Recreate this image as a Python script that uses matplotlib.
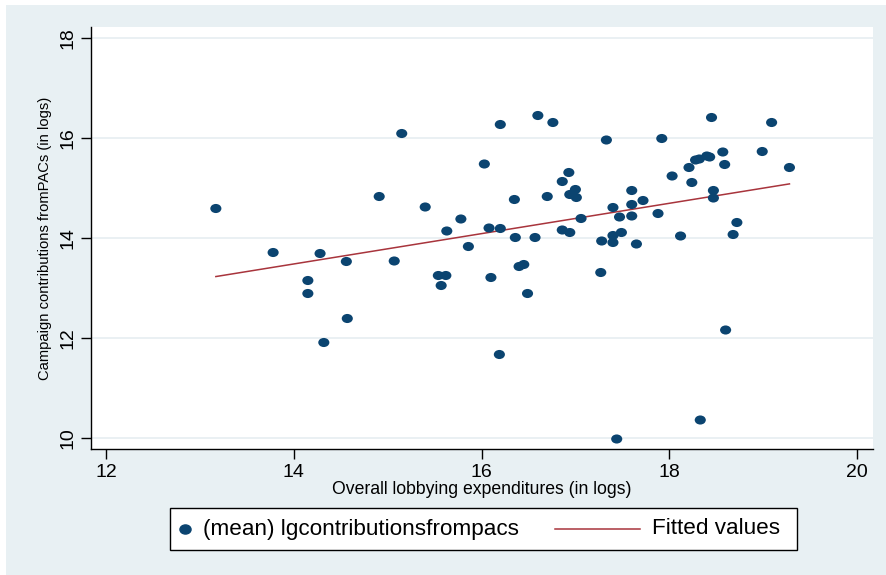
import numpy as np
import matplotlib
matplotlib.use("Agg")
import matplotlib.pyplot as plt
from matplotlib.patches import Rectangle
from matplotlib.lines import Line2D
from matplotlib.path import Path
from matplotlib.transforms import Affine2D

plt.rcParams['font.family'] = ['Liberation Sans', 'DejaVu Sans']

# overall lobbying expenditures (logs)
lobbying = [13.17, 13.78, 14.28, 14.56, 14.15, 14.15, 14.57, 14.32, 14.91, 15.15,
            15.07, 15.40, 15.78, 15.63, 15.86, 15.54, 15.62, 15.57, 16.03, 16.20,
            16.08, 16.20, 16.35, 16.36, 16.10, 16.19, 16.40, 16.45, 16.60, 16.76,
            16.57, 16.49, 16.70, 16.86, 16.93, 16.94, 17.00, 17.01, 17.06, 16.86,
            16.94, 17.33, 17.92, 17.27, 17.28, 17.40, 17.40, 17.49, 17.65, 17.40,
            17.47, 17.60, 17.60, 17.60, 17.72, 17.88, 18.12, 18.03, 18.21, 18.24,
            18.32, 18.28, 18.40, 18.43, 18.45, 18.57, 18.59, 18.47, 18.47, 18.72,
            18.68, 18.60, 18.99, 19.09, 19.28, 17.44, 18.33]
# campaign contributions from PACs (logs)
contributions = [14.59, 13.71, 13.69, 13.53, 13.15, 12.89, 12.39, 11.91, 14.83, 16.09,
                 13.54, 14.62, 14.38, 14.14, 13.83, 13.25, 13.25, 13.05, 15.48, 16.27,
                 14.20, 14.19, 14.77, 14.01, 13.21, 11.67, 13.43, 13.47, 16.45, 16.31,
                 14.01, 12.89, 14.83, 15.13, 15.31, 14.87, 14.97, 14.81, 14.39, 14.16,
                 14.11, 15.96, 15.99, 13.31, 13.94, 14.05, 13.91, 14.11, 13.88, 14.61,
                 14.42, 14.44, 14.67, 14.95, 14.75, 14.49, 14.04, 15.24, 15.41, 15.11,
                 15.58, 15.56, 15.64, 15.62, 16.41, 15.72, 15.47, 14.95, 14.80, 14.31,
                 14.07, 12.16, 15.73, 16.31, 15.41, 9.98, 10.36]

x = np.array(lobbying)
y = np.array(contributions)
b, a = np.polyfit(x, y, 1)
xf = np.array([x.min(), x.max()])
yf = a + b * xf

navy = '#0B4470'
maroon = '#A8343C'
# slightly wide dots, like the stata export
oval = Path.unit_circle().transformed(Affine2D().scale(1.0, 0.82))

W, H = 886, 575
fig = plt.figure(figsize=(W / 100, H / 100), dpi=100)
fig.patch.set_facecolor('white')
fig.patches.append(Rectangle((6 / W, 0), 880 / W, 570 / H, transform=fig.transFigure,
                             facecolor='#E8F0F3', edgecolor='none', zorder=-10))

ax = fig.add_axes([91 / W, 126 / H, 782 / W, 422 / H])
ax.set_facecolor('white')

ax.scatter(x, y, s=64, marker=oval, color=navy, edgecolors='none', zorder=3)
ax.plot(xf, yf, color=maroon, lw=1.1, zorder=2)

ax.set_xlim(11.84, 20.17)
ax.set_ylim(9.78, 18.22)
ax.set_xticks([12, 14, 16, 18, 20])
ax.set_yticks([10, 12, 14, 16, 18])
ax.grid(axis='y', color='#E6EEF1', lw=1.2)
ax.set_axisbelow(True)

for s in ['top', 'right']:
    ax.spines[s].set_visible(False)
for s in ['left', 'bottom']:
    ax.spines[s].set_linewidth(1.0)
ax.tick_params(axis='both', length=7, width=1, labelsize=14, colors='black')
plt.setp(ax.get_yticklabels(), rotation=90, va='center')

ax.set_xlabel('Overall lobbying expenditures (in logs)', fontsize=12.7, labelpad=0)
ax.set_ylabel('Campaign contributions fromPACs (in logs)', fontsize=10.6, labelpad=5)

# legend box (drawn by hand to match the spacing)
def fx(px):
    return px / W

def fy(py):
    return 1 - py / H

fig.patches.append(Rectangle((fx(170), fy(550)), (797 - 170) / W, 42 / H,
                             transform=fig.transFigure, facecolor='white',
                             edgecolor='black', lw=1.0))
fig.lines.append(Line2D([fx(185)], [fy(529)], transform=fig.transFigure,
                        marker=oval, ms=8, color=navy, ls='none'))
fig.text(fx(203), fy(529), '(mean) lgcontributionsfrompacs', fontsize=16.2,
         va='center', ha='left')
fig.lines.append(Line2D([fx(555), fx(640)], [fy(529), fy(529)],
                        transform=fig.transFigure, color=maroon, lw=1.1))
fig.text(fx(652), fy(529), 'Fitted values', fontsize=16.2, va='center', ha='left')

fig.savefig('out.png', dpi=100)
